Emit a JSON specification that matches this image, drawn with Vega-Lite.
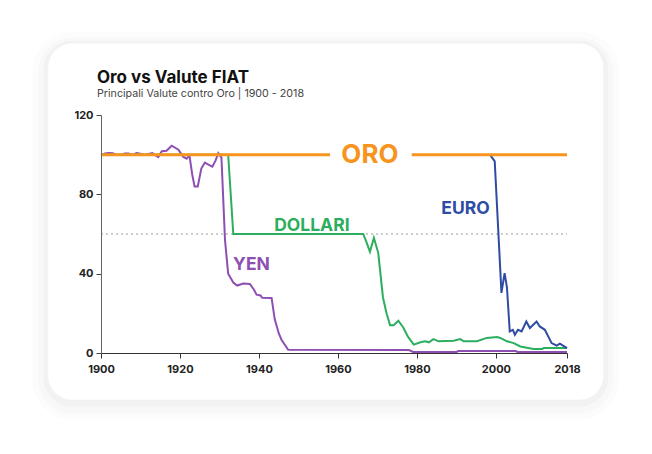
{
  "$schema": "https://vega.github.io/schema/vega-lite/v6.json",
  "width": 466,
  "height": 238,
  "autosize": {"type": "none"},
  "padding": {"left": 101, "top": 115, "right": 85, "bottom": 101},
  "background": "white",
  "config": {
    "font": "Inter",
    "view": {"stroke": null},
    "axis": {"labelFont": "Inter", "labelFontWeight": "bold", "labelFontSize": 11, "labelColor": "#222", "grid": false, "domainColor": "#444", "tickColor": "#444", "tickSize": 5, "title": null, "labelOverlap": false, "labelFlush": false}
  },
  "title": {
    "text": "Oro vs Valute FIAT",
    "subtitle": "Principali Valute contro Oro | 1900 - 2018",
    "anchor": "start",
    "frame": "group",
    "dx": -4,
    "offset": -68,
    "font": "Inter",
    "fontSize": 17,
    "fontWeight": "bold",
    "color": "#111",
    "subtitleFont": "Inter",
    "subtitleFontSize": 10.7,
    "subtitleColor": "#444",
    "subtitlePadding": 2
  },
  "datasets": {
    "lines": [
      {"serie": "YEN", "part": 1, "year": 1900, "value": 99.8},
      {"serie": "YEN", "part": 1, "year": 1901, "value": 100.6},
      {"serie": "YEN", "part": 1, "year": 1902, "value": 100.8},
      {"serie": "YEN", "part": 1, "year": 1903, "value": 100.7},
      {"serie": "YEN", "part": 1, "year": 1904, "value": 99.8},
      {"serie": "YEN", "part": 1, "year": 1905, "value": 99.9},
      {"serie": "YEN", "part": 1, "year": 1906, "value": 100.6},
      {"serie": "YEN", "part": 1, "year": 1907, "value": 100.6},
      {"serie": "YEN", "part": 1, "year": 1908, "value": 99.9},
      {"serie": "YEN", "part": 1, "year": 1909, "value": 100.8},
      {"serie": "YEN", "part": 1, "year": 1910, "value": 100.5},
      {"serie": "YEN", "part": 1, "year": 1911, "value": 99.9},
      {"serie": "YEN", "part": 1, "year": 1912, "value": 100.4},
      {"serie": "YEN", "part": 1, "year": 1913, "value": 100.8},
      {"serie": "YEN", "part": 1, "year": 1914.5, "value": 98.8},
      {"serie": "YEN", "part": 1, "year": 1915.4, "value": 101.7},
      {"serie": "YEN", "part": 1, "year": 1916.6, "value": 102},
      {"serie": "YEN", "part": 1, "year": 1917.9, "value": 104.5},
      {"serie": "YEN", "part": 1, "year": 1919.6, "value": 102.5},
      {"serie": "YEN", "part": 1, "year": 1920.8, "value": 99},
      {"serie": "YEN", "part": 1, "year": 1921.7, "value": 98},
      {"serie": "YEN", "part": 1, "year": 1922.4, "value": 99.6},
      {"serie": "YEN", "part": 1, "year": 1923.1, "value": 90},
      {"serie": "YEN", "part": 1, "year": 1923.7, "value": 84},
      {"serie": "YEN", "part": 1, "year": 1924.5, "value": 84},
      {"serie": "YEN", "part": 1, "year": 1925.4, "value": 93},
      {"serie": "YEN", "part": 1, "year": 1926.3, "value": 96},
      {"serie": "YEN", "part": 1, "year": 1927.2, "value": 95},
      {"serie": "YEN", "part": 1, "year": 1928.2, "value": 94},
      {"serie": "YEN", "part": 1, "year": 1929, "value": 97},
      {"serie": "YEN", "part": 1, "year": 1929.7, "value": 100.8},
      {"serie": "YEN", "part": 1, "year": 1930.5, "value": 98.5},
      {"serie": "YEN", "part": 1, "year": 1930.9, "value": 80},
      {"serie": "YEN", "part": 1, "year": 1931.4, "value": 57},
      {"serie": "YEN", "part": 1, "year": 1932.2, "value": 40},
      {"serie": "YEN", "part": 1, "year": 1933.5, "value": 35.5},
      {"serie": "YEN", "part": 1, "year": 1934.5, "value": 34},
      {"serie": "YEN", "part": 1, "year": 1936, "value": 35},
      {"serie": "YEN", "part": 1, "year": 1937.7, "value": 34.8},
      {"serie": "YEN", "part": 1, "year": 1938.7, "value": 32},
      {"serie": "YEN", "part": 1, "year": 1939.4, "value": 29.4},
      {"serie": "YEN", "part": 1, "year": 1940.4, "value": 29},
      {"serie": "YEN", "part": 1, "year": 1940.8, "value": 27.8},
      {"serie": "YEN", "part": 1, "year": 1943.2, "value": 27.7},
      {"serie": "YEN", "part": 1, "year": 1944, "value": 17},
      {"serie": "YEN", "part": 1, "year": 1945, "value": 10},
      {"serie": "YEN", "part": 1, "year": 1945.7, "value": 6.7},
      {"serie": "YEN", "part": 1, "year": 1947.4, "value": 1.6},
      {"serie": "YEN", "part": 1, "year": 1978, "value": 1.5},
      {"serie": "YEN", "part": 1, "year": 1979, "value": 0.5},
      {"serie": "YEN", "part": 1, "year": 1990, "value": 0.5},
      {"serie": "YEN", "part": 1, "year": 1990.5, "value": 1},
      {"serie": "YEN", "part": 1, "year": 2005, "value": 1},
      {"serie": "YEN", "part": 1, "year": 2005.5, "value": 0.5},
      {"serie": "YEN", "part": 1, "year": 2018, "value": 0.5},

      {"serie": "DOLLARI", "part": 1, "year": 1900, "value": 100},
      {"serie": "DOLLARI", "part": 1, "year": 1932.2, "value": 100},
      {"serie": "DOLLARI", "part": 1, "year": 1933.5, "value": 60},
      {"serie": "DOLLARI", "part": 1, "year": 1966.4, "value": 60},
      {"serie": "DOLLARI", "part": 1, "year": 1967.2, "value": 56},
      {"serie": "DOLLARI", "part": 1, "year": 1968.1, "value": 51},
      {"serie": "DOLLARI", "part": 1, "year": 1969.1, "value": 58},
      {"serie": "DOLLARI", "part": 1, "year": 1970.2, "value": 50.5},
      {"serie": "DOLLARI", "part": 1, "year": 1971.4, "value": 28},
      {"serie": "DOLLARI", "part": 1, "year": 1972.3, "value": 20},
      {"serie": "DOLLARI", "part": 1, "year": 1973.2, "value": 14},
      {"serie": "DOLLARI", "part": 1, "year": 1974.1, "value": 14},
      {"serie": "DOLLARI", "part": 1, "year": 1975.3, "value": 16.3},
      {"serie": "DOLLARI", "part": 1, "year": 1976.5, "value": 13},
      {"serie": "DOLLARI", "part": 1, "year": 1977.8, "value": 8},
      {"serie": "DOLLARI", "part": 1, "year": 1979.2, "value": 4.2},
      {"serie": "DOLLARI", "part": 1, "year": 1980.9, "value": 5.4},
      {"serie": "DOLLARI", "part": 1, "year": 1982.1, "value": 5.9},
      {"serie": "DOLLARI", "part": 1, "year": 1983, "value": 5.4},
      {"serie": "DOLLARI", "part": 1, "year": 1984.2, "value": 7},
      {"serie": "DOLLARI", "part": 1, "year": 1985.5, "value": 5.9},
      {"serie": "DOLLARI", "part": 1, "year": 1989.3, "value": 6.2},
      {"serie": "DOLLARI", "part": 1, "year": 1991, "value": 7},
      {"serie": "DOLLARI", "part": 1, "year": 1991.8, "value": 5.9},
      {"serie": "DOLLARI", "part": 1, "year": 1995.2, "value": 5.9},
      {"serie": "DOLLARI", "part": 1, "year": 1997.7, "value": 7.6},
      {"serie": "DOLLARI", "part": 1, "year": 2000.3, "value": 8.1},
      {"serie": "DOLLARI", "part": 1, "year": 2001.1, "value": 7.6},
      {"serie": "DOLLARI", "part": 1, "year": 2002.8, "value": 5.9},
      {"serie": "DOLLARI", "part": 1, "year": 2004.5, "value": 5},
      {"serie": "DOLLARI", "part": 1, "year": 2006.2, "value": 3.3},
      {"serie": "DOLLARI", "part": 1, "year": 2009.5, "value": 2},
      {"serie": "DOLLARI", "part": 1, "year": 2011.7, "value": 2},
      {"serie": "DOLLARI", "part": 1, "year": 2012.1, "value": 2.5},
      {"serie": "DOLLARI", "part": 1, "year": 2018, "value": 2.5},

      {"serie": "EURO", "part": 1, "year": 1998.5, "value": 100},
      {"serie": "EURO", "part": 1, "year": 1999.7, "value": 96.6},
      {"serie": "EURO", "part": 1, "year": 2001.4, "value": 30.3},
      {"serie": "EURO", "part": 1, "year": 2002.2, "value": 40.3},
      {"serie": "EURO", "part": 1, "year": 2002.8, "value": 33},
      {"serie": "EURO", "part": 1, "year": 2003.5, "value": 10.9},
      {"serie": "EURO", "part": 1, "year": 2004.3, "value": 11.7},
      {"serie": "EURO", "part": 1, "year": 2004.8, "value": 9.2},
      {"serie": "EURO", "part": 1, "year": 2005.6, "value": 11.7},
      {"serie": "EURO", "part": 1, "year": 2006.5, "value": 10.9},
      {"serie": "EURO", "part": 1, "year": 2007.7, "value": 15.9},
      {"serie": "EURO", "part": 1, "year": 2008.6, "value": 12.6},
      {"serie": "EURO", "part": 1, "year": 2010.3, "value": 15.9},
      {"serie": "EURO", "part": 1, "year": 2011.1, "value": 13.4},
      {"serie": "EURO", "part": 1, "year": 2012.4, "value": 11.7},
      {"serie": "EURO", "part": 1, "year": 2014.1, "value": 5},
      {"serie": "EURO", "part": 1, "year": 2015.4, "value": 3.7},
      {"serie": "EURO", "part": 1, "year": 2016.2, "value": 4.7},
      {"serie": "EURO", "part": 1, "year": 2018, "value": 2.5},

      {"serie": "ORO", "part": 1, "year": 1900, "value": 100},
      {"serie": "ORO", "part": 1, "year": 1958, "value": 100},
      {"serie": "ORO", "part": 2, "year": 1978.7, "value": 100},
      {"serie": "ORO", "part": 2, "year": 2018, "value": 100}
    ],
    "labels": [
      {"serie": "ORO", "text": "ORO", "year": 1968.1, "value": 100},
      {"serie": "DOLLARI", "text": "DOLLARI", "year": 1953.4, "value": 64.2},
      {"serie": "YEN", "text": "YEN", "year": 1938.1, "value": 44.5},
      {"serie": "EURO", "text": "EURO", "year": 1992.3, "value": 72.8}
    ]
  },
  "layer": [
    {"data": {"values": [{}]}, "mark": {"type": "rect", "fill": "black", "opacity": 0.013, "cornerRadius": 40},
     "encoding": {
       "x": {"datum": 1882.6, "type": "quantitative", "scale": {"domain": [1900, 2018], "nice": false, "zero": false}},
       "x2": {"datum": 2031.25},
       "y": {"datum": 162.07, "type": "quantitative", "scale": {"domain": [0, 120], "nice": false}},
       "y2": {"datum": -33.6}}},
    {"data": {"values": [{}]}, "mark": {"type": "rect", "fill": "black", "opacity": 0.017, "cornerRadius": 34},
     "encoding": {"x": {"datum": 1884.12, "type": "quantitative"}, "x2": {"datum": 2029.73}, "y": {"datum": 159.0, "type": "quantitative"}, "y2": {"datum": -30.6}}},
    {"data": {"values": [{}]}, "mark": {"type": "rect", "fill": "black", "opacity": 0.022, "cornerRadius": 29},
     "encoding": {"x": {"datum": 1885.38, "type": "quantitative"}, "x2": {"datum": 2028.47}, "y": {"datum": 157.5, "type": "quantitative"}, "y2": {"datum": -27.1}}},
    {"data": {"values": [{}]}, "mark": {"type": "rect", "fill": "white", "cornerRadius": 24},
     "encoding": {"x": {"datum": 1886.65, "type": "quantitative"}, "x2": {"datum": 2027.2}, "y": {"datum": 156.0, "type": "quantitative"}, "y2": {"datum": -23.55}}},
    {"data": {"values": [{}]}, "mark": {"type": "rule", "color": "#9a9a9a", "strokeDash": [2, 3], "strokeWidth": 1},
     "encoding": {"x": {"datum": 1900, "type": "quantitative"}, "x2": {"datum": 2018}, "y": {"datum": 60, "type": "quantitative"}}},
    {"data": {"name": "lines"}, "transform": [{"filter": "datum.serie === 'YEN'"}],
     "mark": {"type": "line", "color": "#8E4FB3", "strokeWidth": 2},
     "encoding": {
       "x": {"field": "year", "type": "quantitative",
             "axis": {"values": [1900, 1910, 1920, 1930, 1940, 1950, 1960, 1970, 1980, 1990, 2000, 2010, 2018], "format": "d", "labelPadding": 5, "labelOverlap": false, "labelFlush": false, "domainColor": "#333", "tickColor": "#333", "zindex": 2}},
       "y": {"field": "value", "type": "quantitative",
             "axis": {"values": [0, 20, 40, 60, 80, 100, 120], "labelPadding": 3, "labelOverlap": false, "labelFlush": false, "domainColor": "#666", "tickColor": "#444", "zindex": 2}},
       "detail": {"field": "part"}}},
    {"data": {"name": "lines"}, "transform": [{"filter": "datum.serie === 'DOLLARI'"}],
     "mark": {"type": "line", "color": "#2CAE5E", "strokeWidth": 2},
     "encoding": {"x": {"field": "year", "type": "quantitative"}, "y": {"field": "value", "type": "quantitative"}, "detail": {"field": "part"}}},
    {"data": {"name": "lines"}, "transform": [{"filter": "datum.serie === 'EURO'"}],
     "mark": {"type": "line", "color": "#2E4CA3", "strokeWidth": 2},
     "encoding": {"x": {"field": "year", "type": "quantitative"}, "y": {"field": "value", "type": "quantitative"}, "detail": {"field": "part"}}},
    {"data": {"name": "lines"}, "transform": [{"filter": "datum.serie === 'ORO'"}],
     "mark": {"type": "line", "color": "#F7941E", "strokeWidth": 3},
     "encoding": {"x": {"field": "year", "type": "quantitative"}, "y": {"field": "value", "type": "quantitative"}, "detail": {"field": "part"}}},
    {"data": {"name": "labels"}, "transform": [{"filter": "datum.serie === 'ORO'"}],
     "mark": {"type": "text", "font": "Inter", "fontSize": 26, "fontWeight": "bold", "color": "#F7941E", "align": "center", "baseline": "middle"},
     "encoding": {"x": {"field": "year", "type": "quantitative"}, "y": {"field": "value", "type": "quantitative"}, "text": {"field": "text"}}},
    {"data": {"name": "labels"}, "transform": [{"filter": "datum.serie !== 'ORO'"}],
     "mark": {"type": "text", "font": "Inter", "fontSize": 17.5, "fontWeight": "bold", "align": "center", "baseline": "middle"},
     "encoding": {"x": {"field": "year", "type": "quantitative"}, "y": {"field": "value", "type": "quantitative"}, "text": {"field": "text"},
                  "color": {"field": "serie", "type": "nominal", "legend": null,
                            "scale": {"domain": ["DOLLARI", "YEN", "EURO"], "range": ["#2CAE5E", "#8E4FB3", "#2E4CA3"]}}}}
  ]
}
